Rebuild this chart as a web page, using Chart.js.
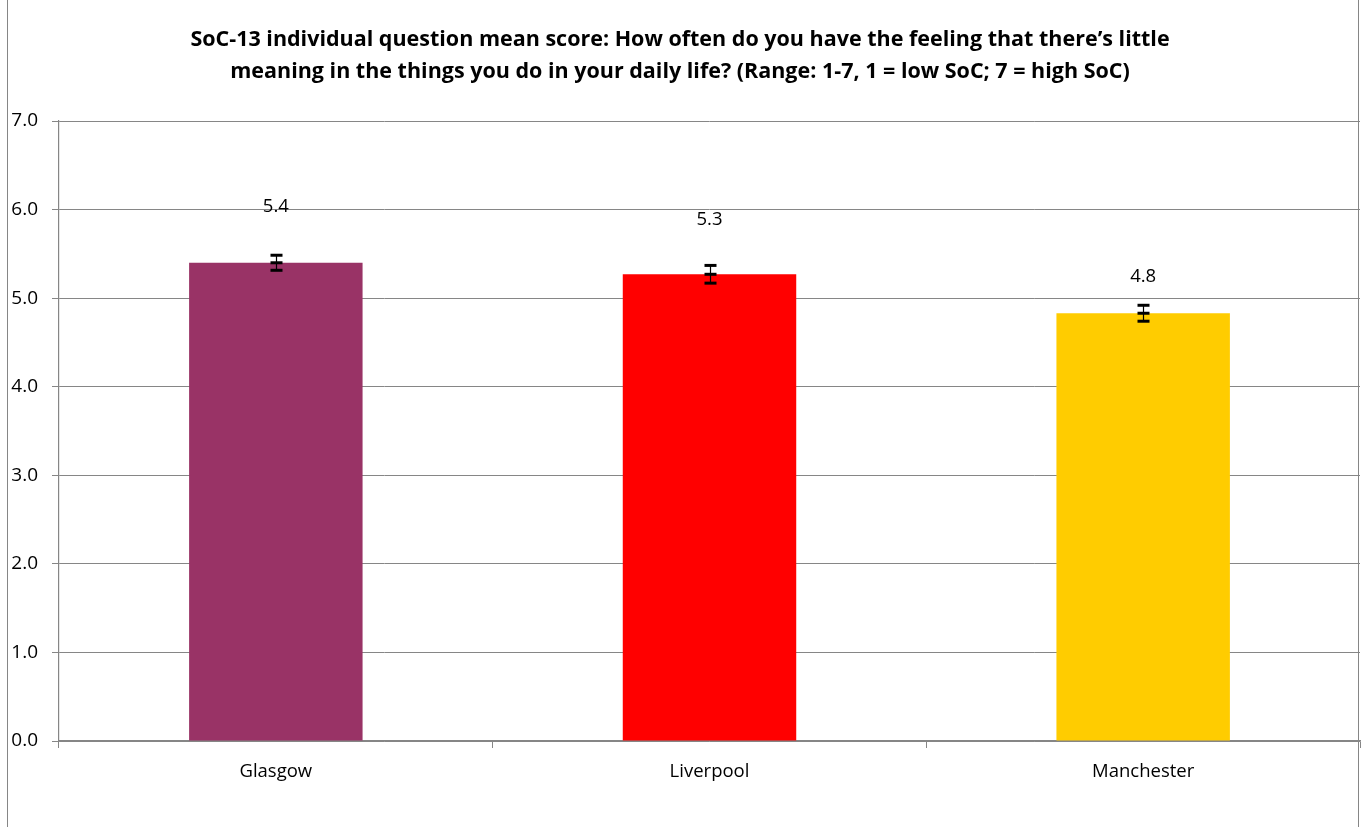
<!DOCTYPE html>
<html>
<head>
<meta charset="utf-8">
<script src="https://cdn.jsdelivr.net/npm/chart.js@4.4.1/dist/chart.umd.min.js"></script>
<style>
  html, body { margin: 0; padding: 0; background: #fff; }
  #wrap { position: relative; width: 1365px; height: 827px; }
  #frame { position: absolute; left: 7px; top: -2px; width: 1352px; height: 832px; border: 1.5px solid #868686; box-sizing: border-box; pointer-events: none; }
</style>
</head>
<body>
<div id="wrap">
  <canvas id="c" width="1365" height="827"></canvas>
  <div id="frame"></div>
</div>
<script>
const titleLines = [
  "SoC-13 individual question mean score: How often do you have the feeling that there\u2019s little",
  "meaning in the things you do in your daily life? (Range: 1-7, 1 = low SoC; 7 = high SoC)"
];
const categories = ["Glasgow", "Liverpool", "Manchester"];
const meanScores = [5.40, 5.27, 4.83];
const errorMargins = [0.085, 0.10, 0.09];
const valueLabels = ["5.4", "5.3", "4.8"];
const barColors = ["#993366", "#FF0000", "#FFCC00"];
const yTicks = [0, 1, 2, 3, 4, 5, 6, 7];

const labelOffsets = [56, 55, 37];
const FONT = "'Open Sans', 'Liberation Sans', sans-serif";

const extras = {
  id: 'extras',
  afterDatasetsDraw(chart) {
    const ctx = chart.ctx;
    const meta = chart.getDatasetMeta(0);
    const ys = chart.scales.y;
    ctx.save();
    meta.data.forEach((bar, i) => {
      const x = Math.round(bar.x) + 0.5;
      const yTop = ys.getPixelForValue(meanScores[i] + errorMargins[i]);
      const yBot = ys.getPixelForValue(meanScores[i] - errorMargins[i]);
      const yMid = ys.getPixelForValue(meanScores[i]);
      ctx.strokeStyle = '#000';
      ctx.lineWidth = 1.2;
      ctx.beginPath();
      ctx.moveTo(x, yTop); ctx.lineTo(x, yBot); ctx.stroke();
      ctx.lineWidth = 3;
      [yTop, yMid, yBot].forEach(yy => {
        ctx.beginPath();
        ctx.moveTo(x - 6, yy); ctx.lineTo(x + 6, yy); ctx.stroke();
      });
      ctx.fillStyle = '#000';
      ctx.font = "18.5px " + FONT;
      ctx.textAlign = 'center';
      ctx.textBaseline = 'middle';
      ctx.fillText(valueLabels[i], bar.x, bar.y - labelOffsets[i]);
    });
    ctx.restore();
  }
};

new Chart(document.getElementById('c'), {
  type: 'bar',
  data: {
    labels: categories,
    datasets: [{
      data: meanScores,
      backgroundColor: barColors,
      borderWidth: 0,
      categoryPercentage: 1.0,
      barPercentage: 0.4
    }]
  },
  options: {
    responsive: false,
    animation: false,
    devicePixelRatio: 1,
    layout: { padding: { left: 0, right: 5, top: 0, bottom: 0 } },
    plugins: {
      legend: { display: false },
      tooltip: { enabled: false },
      title: {
        display: true,
        text: titleLines,
        color: '#000',
        font: { family: FONT, size: 21.5, weight: 'bold', lineHeight: 1.49 },
        padding: { top: 24, bottom: 33 }
      }
    },
    scales: {
      x: {
        afterFit(s) { s.height = 86; },
        offset: true,
        grid: {
          display: true,
          drawOnChartArea: false,
          drawTicks: true,
          tickLength: 7,
          color: '#868686',
          offset: true
        },
        border: { display: true, color: '#868686', width: 1.5 },
        ticks: { color: '#000', font: { family: FONT, size: 18.5 }, padding: 13 }
      },
      y: {
        min: 0,
        max: 7,
        afterFit(s) { s.width = 59; },
        afterBuildTicks(s) { s.ticks = yTicks.map(v => ({ value: v })); },
        grid: { color: '#868686', lineWidth: 1, tickLength: 7, drawTicks: true },
        border: { display: true, color: '#868686', width: 1.2 },
        ticks: {
          color: '#000',
          font: { family: FONT, size: 19 },
          padding: 14,
          callback: v => Number(v).toFixed(1)
        }
      }
    }
  },
  plugins: [extras]
});
</script>
</body>
</html>
